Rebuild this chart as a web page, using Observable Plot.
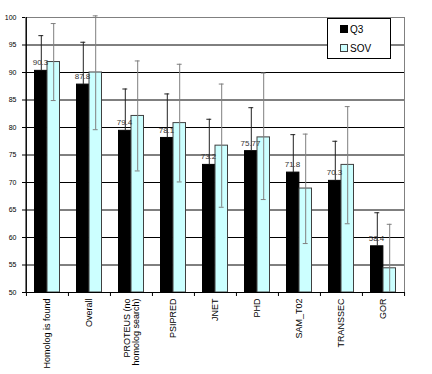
<!DOCTYPE html>
<html><head><meta charset="utf-8">
<script src="https://cdn.jsdelivr.net/npm/d3@7"></script>
<script src="https://cdn.jsdelivr.net/npm/@observablehq/plot@0.6"></script>
<style>
body{margin:0;background:#fff;font-family:"Liberation Sans",Arial,sans-serif;}
#wrap{position:relative;width:432px;height:374px;}
#legend{position:absolute;left:327px;top:18px;width:62px;height:39px;border:1px solid #000;background:#fff;font-size:10px;color:#000;}
.row{position:absolute;left:12px;height:12px;line-height:12px;white-space:nowrap;}
.sw{display:inline-block;width:6px;height:6px;border:1px solid #000;margin-right:2px;vertical-align:0px;}
svg [aria-label^="y-axis"] text{font-size:7px;}
svg [aria-label^="x-axis"] text{font-size:9px;}
</style>
</head><body>
<div id="wrap">
<div id="chart"></div>
<div id="legend">
  <div class="row" style="top:5px"><span class="sw" style="background:#000"></span>Q3</div>
  <div class="row" style="top:24px"><span class="sw" style="background:#ccffff;border-color:#404040"></span>SOV</div>
</div>
</div>
<script>
const categories = ["Homolog is found","Overall","PROTEUS (no\nhomolog search)","PSIPRED","JNET","PHD","SAM_T02","TRANSSEC","GOR"];
const q3 = [90.3, 87.8, 79.4, 78.1, 73.2, 75.7, 71.8, 70.3, 58.4];
const q3Labels = ["90.3","87.8","79.4","78.1","73.2","75.77","71.8","70.3","58.4"];
const q3ErrTop = [96.7, 95.5, 87.0, 86.1, 81.5, 83.6, 78.7, 77.5, 64.5];
const sov = [91.9, 90.0, 82.1, 80.8, 76.7, 78.2, 68.9, 73.2, 54.4];
const sovErrTop = [98.9, 100.3, 92.1, 91.5, 87.9, 89.9, 78.8, 83.8, 62.4];
const sovErrBottom = [84.9, 79.6, 72.1, 70.1, 65.5, 66.9, 58.9, 62.5, 50];
const yTicks = [50, 55, 60, 65, 70, 75, 80, 85, 90, 95, 100];

const rows = categories.map((c, i) => ({
  cat: c, q3: q3[i], q3Label: q3Labels[i], q3Top: q3ErrTop[i],
  sov: sov[i], sovTop: sovErrTop[i], sovBottom: sovErrBottom[i]
}));

const W = 432, H = 374, mL = 25, mR = 28, mT = 17, mB = 82;
const bw = (W - mL - mR) / categories.length;
const capInset = (bw - 5) / 2;
const font = '"Liberation Sans", Arial, sans-serif';

const chart = Plot.plot({
  width: W, height: H,
  marginLeft: mL, marginRight: mR, marginTop: mT, marginBottom: mB,
  style: {fontFamily: font, color: "#000", background: "#fff"},
  x: {type: "band", domain: categories, padding: 0, label: null, tickSize: 0, tickPadding: 6, tickRotate: -90},
  y: {domain: [50, 100], ticks: yTicks, label: null, tickSize: 3, tickPadding: 6},
  marks: [
    Plot.frame({stroke: "#808080"}),
    Plot.ruleY(yTicks.filter(d => d > 50 && d < 100), {stroke: "#000", strokeWidth: 1}),
    Plot.ruleX([50], {x: () => 0}) && null,
    Plot.barY(rows, {x: "cat", y1: 50, y2: "q3", fill: "#000", stroke: "#000", insetLeft: 8.5, insetRight: bw - 21}),
    Plot.barY(rows, {x: "cat", y1: 50, y2: "sov", fill: "#ccffff", stroke: "#404040", insetLeft: 21, insetRight: 8.5}),
    Plot.ruleX(rows, {x: "cat", y1: "q3", y2: "q3Top", stroke: "#222", dx: -6.2}),
    Plot.tickY(rows, {x: "cat", y: "q3Top", stroke: "#222", dx: -6.2, insetLeft: capInset, insetRight: capInset}),
    Plot.ruleX(rows, {x: "cat", y1: "sovBottom", y2: "sovTop", stroke: "#7f7f7f", dx: 6.2}),
    Plot.tickY(rows, {x: "cat", y: "sovTop", stroke: "#7f7f7f", dx: 6.2, insetLeft: capInset, insetRight: capInset}),
    Plot.tickY(rows.filter(d => d.sovBottom > 50), {x: "cat", y: "sovBottom", stroke: "#7f7f7f", dx: 6.2, insetLeft: capInset, insetRight: capInset}),
    Plot.text(rows, {x: "cat", y: "q3", text: "q3Label", dx: -7, dy: -8, fontSize: 8, fill: "#333"}),
    Plot.ruleY([50], {stroke: "#000"}),
    Plot.ruleX(rows, {x: "cat", y1: 50, y2: 50, dx: -bw / 2, insetBottom: -4, stroke: "#000"}),
    Plot.ruleX(rows.slice(-1), {x: "cat", y1: 50, y2: 50, dx: bw / 2, insetBottom: -4, stroke: "#000"}),
    Plot.ruleX(rows.slice(0, 1), {x: "cat", dx: -bw / 2, stroke: "#000"})
  ].filter(Boolean)
});
document.getElementById("chart").appendChild(chart);
</script>
</body></html>
